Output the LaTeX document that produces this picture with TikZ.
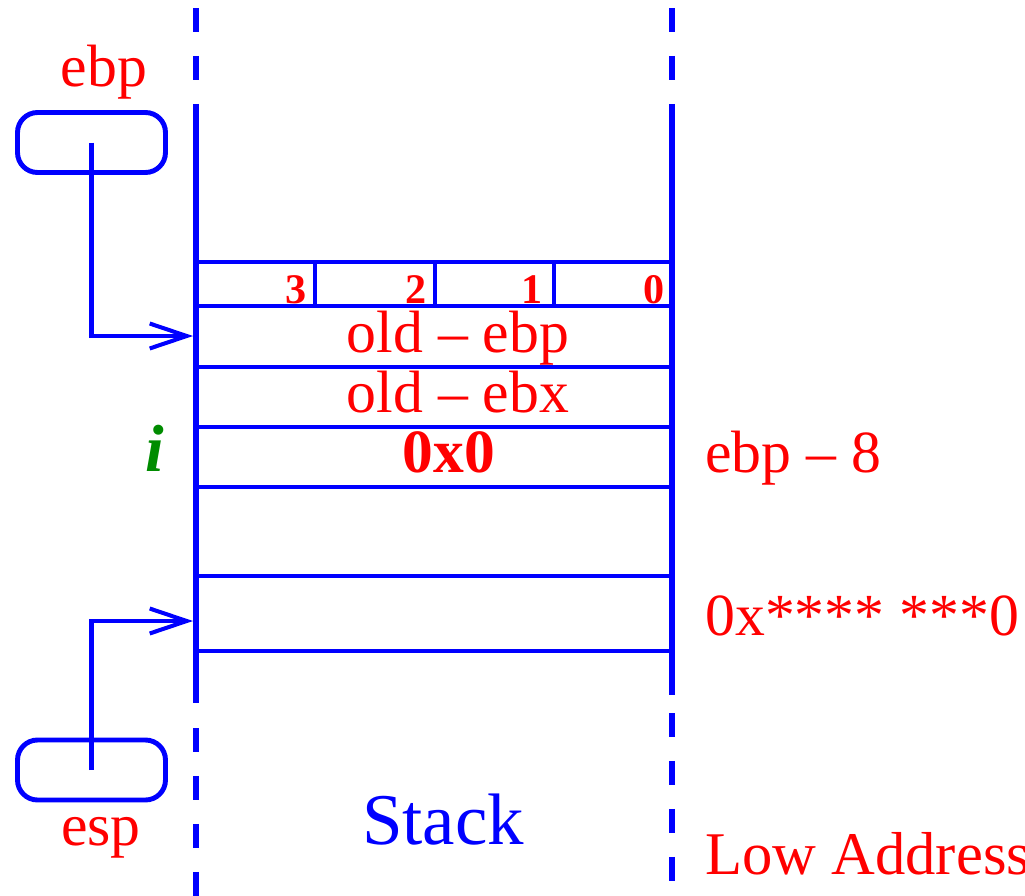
\documentclass[tikz,border=0pt]{standalone}
\usepackage{fontspec}
\setmainfont{Liberation Serif}
\usetikzlibrary{arrows.meta}
\definecolor{sblue}{RGB}{0,0,255}
\definecolor{sred}{RGB}{255,0,0}
\definecolor{sgreen}{RGB}{0,140,0}
\begin{document}
\begin{tikzpicture}[x=0.02cm,y=-0.02cm,
  wall/.style={draw=sblue,line width=3.4pt},
  walldash/.style={wall,dash pattern=on 0.48cm off 0.48cm},
  cellline/.style={draw=sblue,line width=2.8pt},
  cell/.style={draw=sblue,line width=2.8pt,minimum width=9.52cm,inner sep=0,outer sep=0},
  reg/.style={draw=sblue,line width=2.8pt,rounded corners=0.4cm,minimum width=2.96cm,minimum height=1.2cm,inner sep=0},
  ptr/.style={draw=sblue,line width=2.3pt,-{Straight Barb[length=0.74cm,width=0.5cm,line width=2.3pt]}},
  lbl/.style={text=sred,font=\fontsize{34}{40}\selectfont,anchor=base,inner sep=0},
  rlbl/.style={lbl,anchor=base west},
  digit/.style={text=sred,font=\fontsize{24}{28}\selectfont\bfseries,anchor=base east,inner sep=0}]
\useasboundingbox (0,0) rectangle (1025,896);
% stack walls
\draw[walldash] (196,8) -- (196,104);
\draw[wall] (196,104) -- (196,703);
\draw[walldash] (196,728) -- (196,896);
\draw[walldash] (672,8) -- (672,104);
\draw[wall] (672,104) -- (672,695);
\draw[walldash] (672,713) -- (672,896);
% cells
\node[cell,minimum height=0.88cm] (bytes) at (434,284) {};
\node[cell,minimum height=1.22cm] (oldebp) at (434,336.5) {};
\node[cell,minimum height=1.2cm] (oldebx) at (434,397) {};
\node[cell,minimum height=1.2cm] (ivar) at (434,457) {};
\node[cell,minimum height=1.78cm] (empty) at (434,531.5) {};
\node[cell,minimum height=1.5cm] (esprow) at (434,613.5) {};
\draw[cellline] (315,262) -- (315,306);
\draw[cellline] (435,262) -- (435,306);
\draw[cellline] (554,262) -- (554,306);
% byte numbers
\node[digit] (d3) at (307,303) {3};
\node[digit] (d2) at (427,303) {2};
\node[digit] (d1) at (543,303) {1};
\node[digit] (d0) at (665,303) {0};
% cell texts
\node[lbl] (toldebp) at (458,352) {old -- ebp};
\node[lbl] (toldebx) at (458,412) {old -- ebx};
\node[lbl,font=\fontsize{35}{40}\selectfont\bfseries] (tzero) at (449,472) {0x0};
\node[lbl,text=sgreen,font=\fontsize{38}{40}\selectfont\bfseries\itshape] (ti) at (155,471) {i};
% right labels
\node[rlbl] (tebp8) at (705,472) {ebp -- 8};
\node[rlbl] (taddr) at (705,635) {0x**** ***0};
\node[rlbl,font=\fontsize{34.5}{40}\selectfont] (tlow) at (705,874) {Low Address};
\node[lbl,text=sblue,font=\fontsize{41.5}{46}\selectfont] (tstack) at (443,844) {Stack};
% registers
\node[reg] (ebpbox) at (91.5,142.5) {};
\node[reg] (espbox) at (91.5,770) {};
\node[lbl] (tebp) at (104,86) {ebp};
\node[lbl] (tesp) at (101,845) {esp};
\coordinate (ebptarget) at (193,336);
\coordinate (esptarget) at (193,621);
\draw[ptr] (ebpbox.center) |- (ebptarget);
\draw[ptr] (espbox.center) |- (esptarget);
\end{tikzpicture}
\end{document}
